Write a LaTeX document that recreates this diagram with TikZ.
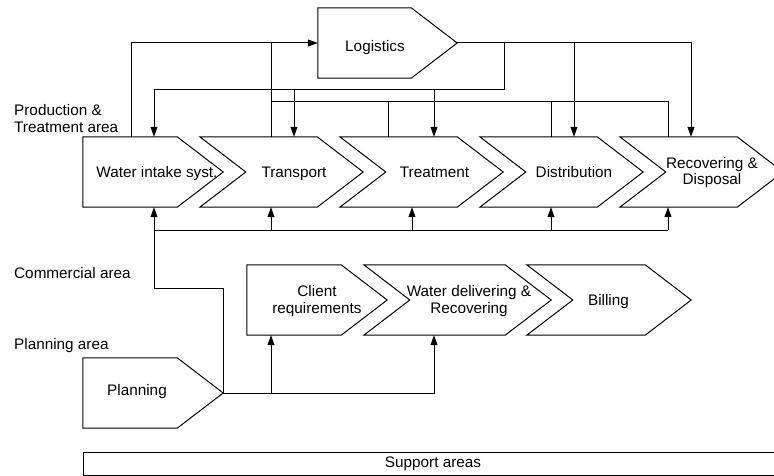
\documentclass[tikz,border=0pt]{standalone}
\usepackage{fontspec}
\setmainfont{Liberation Sans}
\usetikzlibrary{arrows.meta}

% outline of a process step: flat back (pentagon) or notched back (chevron)
\newcommand\drawpenta[2]{%
  \draw[box] (#1.north west) -- ([xshift=-#2]#1.north east) -- (#1.east)
    -- ([xshift=-#2]#1.south east) -- (#1.south west) -- cycle;}
\newcommand\drawchevron[2]{%
  \draw[box] (#1.north west) -- ([xshift=-#2]#1.north east) -- (#1.east)
    -- ([xshift=-#2]#1.south east) -- (#1.south west) -- ([xshift=#2]#1.west) -- cycle;}

\begin{document}
\begin{tikzpicture}[x=1pt,y=-1pt,
  frame/.style={inner sep=0pt, minimum height=70pt},
  box/.style={draw, line width=1pt, line join=miter},
  lbl/.style={inner sep=0pt, align=center, font=\fontsize{15.3}{16.7}\selectfont},
  side/.style={inner sep=0pt, align=left, font=\fontsize{15.3}{16.7}\selectfont},
  wire/.style={line width=1pt},
  arr/.style={wire, -{Triangle[length=10pt,width=7pt]}},
]
\useasboundingbox (0,0) rectangle (774,476);
\fill[white] (0,0) rectangle (774,476);
\clip (0,0) rectangle (774,476);

% ---- frames of the process steps ----
\node[frame, minimum width=139pt] (lg) at (387.5,43) {};
\node[frame, minimum width=140pt] (wi) at (153,172) {};
\node[frame, minimum width=163pt] (tr) at (281.5,172) {};
\node[frame, minimum width=163pt] (tt) at (421.5,172) {};
\node[frame, minimum width=163pt] (di) at (561.5,172) {};
\node[frame, minimum width=163pt] (rd) at (701.5,172) {};
\node[frame, minimum width=140pt] (cr) at (317,300) {};
\node[frame, minimum width=187pt] (wd) at (457.5,300) {};
\node[frame, minimum width=164pt] (bi) at (609,300) {};
\node[frame, minimum width=140pt] (pl) at (153,393) {};

\drawpenta{lg}{46pt}
\drawpenta{wi}{46pt}
\drawchevron{tr}{46pt}
\drawchevron{tt}{46pt}
\drawchevron{di}{46pt}
\drawchevron{rd}{46pt}
\drawpenta{cr}{46pt}
\drawchevron{wd}{46pt}
\drawchevron{bi}{46pt}
\drawpenta{pl}{46pt}

% ---- step names ----
\node[lbl, anchor=base] (lg-t) at (375,52) {Logistics};
\node[lbl, anchor=base] (wi-t) at (157,177.7) {Water intake syst.};
\node[lbl, anchor=base] (tr-t) at (294,177.7) {Transport};
\node[lbl, anchor=base] (tt-t) at (434.5,177.7) {Treatment};
\node[lbl, anchor=base] (di-t) at (574,177.7) {Distribution};
\node[lbl] (rd-t) at (712,172.5) {Recovering \&\\Disposal};
\node[lbl] (cr-t) at (317,301) {Client\\requirements};
\node[lbl] (wd-t) at (469,301) {Water delivering \&\\Recovering};
\node[lbl, anchor=base] (bi-t) at (608.5,305.7) {Billing};
\node[lbl, anchor=base] (pl-t) at (137,395.7) {Planning};

% ---- support band ----
\node[box, lbl, minimum width=700pt, minimum height=23pt] (sa) at (433,463.5) {Support areas};

% ---- area labels ----
\node[side, anchor=west] (area-p) at (14,118.5) {Production \&\\Treatment area};
\node[side, anchor=base west] (area-c) at (14,278.3) {Commercial area};
\node[side, anchor=base west] (area-pl) at (14,349.3) {Planning area};

% ---- bus columns and rows ----
\coordinate (c131) at (131,0);
\coordinate (c154) at (154,0);
\coordinate (c271) at (271,0);
\coordinate (c294) at (294,0);
\coordinate (c388) at (388,0);
\coordinate (c412) at (412,0);
\coordinate (c434) at (434,0);
\coordinate (c504) at (504,0);
\coordinate (c551) at (551,0);
\coordinate (c574) at (574,0);
\coordinate (c668) at (668,0);
\coordinate (c691) at (691,0);
\coordinate (r90) at (0,90);
\coordinate (r102) at (0,102);
\coordinate (r230) at (0,230);
\coordinate (r288) at (0,288);

% ---- steps reporting to logistics ----
\draw[arr] (c131 |- wi.north) |- (lg.west);
\draw[wire] (c271 |- tr.north) -- (c271 |- lg.west);
\draw[wire] (c668 |- rd.north) |- (c271 |- r102);
\draw[wire] (c388 |- tt.north) -- (c388 |- r102);
\draw[wire] (c551 |- di.north) -- (c551 |- r102);

% ---- logistics supplying the steps ----
\draw[arr] (lg.east) -| (c691 |- rd.north);
\draw[arr] (c574 |- lg.east) -- (c574 |- di.north);
\draw[arr] (c504 |- lg.east) -- (c504 |- r90) -| (c154 |- wi.north);
\draw[arr] (c294 |- r90) -- (c294 |- tr.north);
\draw[arr] (c434 |- r90) -- (c434 |- tt.north);

% ---- planning feeding the production steps ----
\draw[wire] (pl.east) |- (c154 |- r288) -- (c154 |- r230) -- (c668 |- r230);
\draw[arr] (c154 |- r230) -- (c154 |- wi.south);
\draw[arr] (c271 |- r230) -- (c271 |- tr.south);
\draw[arr] (c412 |- r230) -- (c412 |- tt.south);
\draw[arr] (c551 |- r230) -- (c551 |- di.south);
\draw[arr] (c668 |- r230) -- (c668 |- rd.south);

% ---- planning feeding the commercial steps ----
\draw[arr] (pl.east) -| (c434 |- wd.south);
\draw[arr] (c271 |- pl.east) -- (c271 |- cr.south);
\end{tikzpicture}
\end{document}
